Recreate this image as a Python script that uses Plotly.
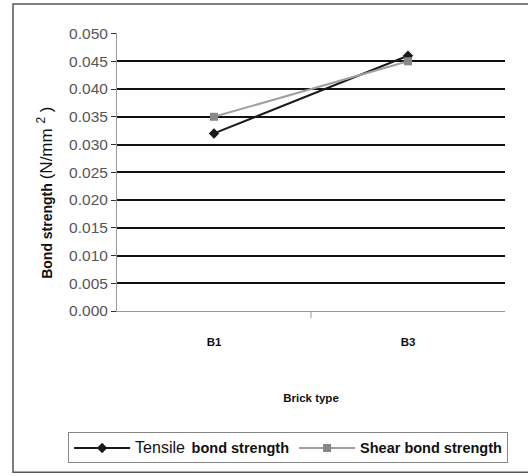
import plotly.graph_objects as go

categories = ["B1", "B3"]
tensile = [0.032, 0.046]
shear = [0.035, 0.045]
y_ticks = [0.000, 0.005, 0.010, 0.015, 0.020, 0.025, 0.030, 0.035, 0.040, 0.045, 0.050]
y_tick_labels = ["0.000", "0.005", "0.010", "0.015", "0.020", "0.025", "0.030", "0.035", "0.040", "0.045", "0.050"]

fig = go.Figure()
fig.add_trace(go.Scatter(
    x=categories, y=tensile, mode="lines+markers",
    name="<span style='font-size:16px'>Tensile</span>  <b><span style='font-size:14.5px'>bond strength</span></b>",
    line=dict(color="#1a1a1a", width=2),
    marker=dict(symbol="diamond", size=8, color="#1a1a1a"),
))
fig.add_trace(go.Scatter(
    x=categories, y=shear, mode="lines+markers",
    name="<b><span style='font-size:14.5px'>Shear bond strength</span></b>",
    line=dict(color="#a0a0a0", width=2),
    marker=dict(symbol="square", size=8, color="#888888"),
))

fig.update_layout(
    width=528, height=476,
    margin=dict(l=117, r=23, t=33, b=165),
    paper_bgcolor="white", plot_bgcolor="white",
    font=dict(family="Liberation Sans, Arial, sans-serif", color="#111111"),
    showlegend=True,
    legend=dict(
        orientation="h",
        x=-0.126, y=-0.437, xanchor="left", yanchor="top",
        bordercolor="#888888", borderwidth=1,
        font=dict(size=12, color="#111111"),
        itemwidth=56, tracegroupgap=0,
    ),
    xaxis=dict(
        type="category", range=[-0.5, 1.5],
        showgrid=False, showline=True, linecolor="#999999", linewidth=1,
        tickfont=dict(size=11.5, color="#111111", family="Liberation Sans, Arial, sans-serif"),
        tickprefix="<b>", ticksuffix="</b>",
        ticks="", zeroline=False, ticklabelstandoff=20,
        title=dict(text="<b>Brick type</b>", font=dict(size=11.5), standoff=47),
    ),
    yaxis=dict(
        range=[0, 0.0501], tickvals=y_ticks, ticktext=y_tick_labels,
        showgrid=True, gridcolor="#111111", gridwidth=2,
        showline=True, linecolor="#999999", linewidth=1,
        ticks="outside", ticklen=5, tickcolor="#333333",
        tickfont=dict(size=15.5, color="#555555"),
        zeroline=True, zerolinecolor="#999999", zerolinewidth=1,
    ),
    annotations=[
        dict(text="<b>Bond strength</b> <span style='font-size:17px'>(N/mm <sup>2</sup> )</span>",
             xref="paper", yref="paper", x=-0.1856, y=0.425,
             xanchor="center", yanchor="middle", textangle=-90,
             showarrow=False, font=dict(size=14, color="#111111")),
    ],
    shapes=[
        dict(type="rect", xref="paper", yref="paper",
             x0=-0.268, x1=1.12, y0=-0.58, y1=1.104,
             line=dict(color="#555555", width=1.5)),
        dict(type="line", xref="paper", yref="paper",
             x0=0.5, x1=0.5, y0=0, y1=-0.025,
             line=dict(color="#999999", width=1)),
    ],
)

fig.write_html("out.html")
